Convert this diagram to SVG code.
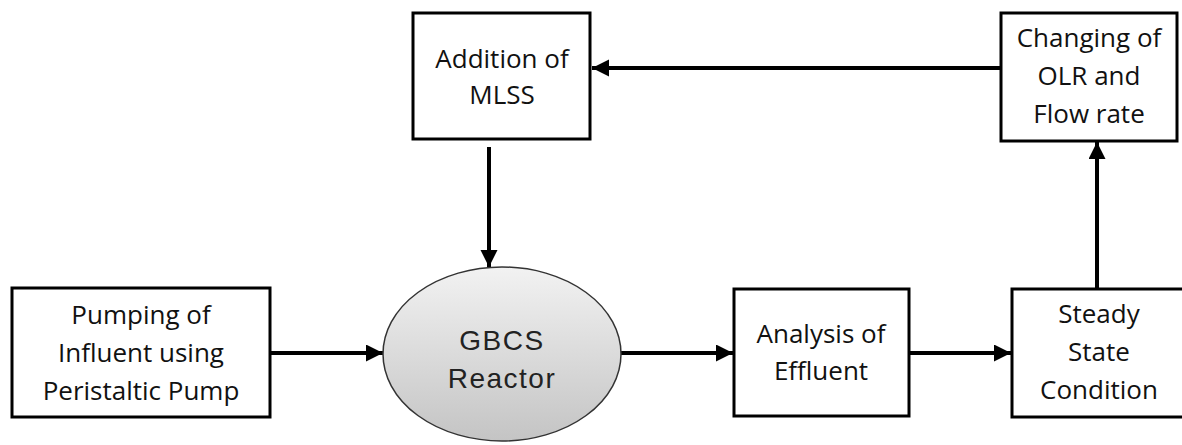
<svg xmlns="http://www.w3.org/2000/svg" width="1182" height="445" viewBox="0 0 1182 445">
  <style>
    .box { fill: #ffffff; stroke: #000000; stroke-width: 3; }
    .lbl { font-family: "Open Sans", "Liberation Sans", sans-serif; font-size: 26px; font-weight: 500; fill: #111111; text-anchor: middle; }
    .rlbl { font-family: "Liberation Sans", Arial, sans-serif; font-size: 28px; fill: #222222; text-anchor: middle; letter-spacing: 1.5px; }
    .conn { fill: none; stroke: #000000; stroke-width: 4; }
  </style>
  <defs>
    <marker id="arrow" markerUnits="userSpaceOnUse" markerWidth="18" markerHeight="18" refX="17" refY="8.5" orient="auto">
      <path d="M0,0 L17,8.5 L0,17 Z" fill="#000000"/>
    </marker>
    <linearGradient id="grey" x1="0" y1="0" x2="0" y2="1">
      <stop offset="0" stop-color="#f2f2f2"/>
      <stop offset="1" stop-color="#c4c4c4"/>
    </linearGradient>
  </defs>
  <rect width="1182" height="445" fill="#ffffff"/>

  <g id="connectors">
    <path class="conn" d="M270,353 H383" marker-end="url(#arrow)"/>
    <path class="conn" d="M621,353 H733" marker-end="url(#arrow)"/>
    <path class="conn" d="M909,353 H1011" marker-end="url(#arrow)"/>
    <path class="conn" d="M1097,289 V142" marker-end="url(#arrow)"/>
    <path class="conn" d="M1001,68 H592" marker-end="url(#arrow)"/>
    <path class="conn" d="M489,147 V267" marker-end="url(#arrow)"/>
  </g>

  <g id="pumping">
    <rect class="box" x="12" y="288" width="258" height="129"/>
    <text class="lbl" x="141" y="324">Pumping of</text>
    <text class="lbl" x="141" y="362">Influent using</text>
    <text class="lbl" x="141" y="400">Peristaltic Pump</text>
  </g>

  <g id="reactor">
    <ellipse cx="502" cy="354" rx="119" ry="87" fill="url(#grey)" stroke="#333333" stroke-width="1.5"/>
    <text class="rlbl" x="502" y="350">GBCS</text>
    <text class="rlbl" x="502" y="388">Reactor</text>
  </g>

  <g id="addition">
    <rect class="box" x="413" y="13" width="177" height="126"/>
    <text class="lbl" x="502" y="68">Addition of</text>
    <text class="lbl" x="502" y="104">MLSS</text>
  </g>

  <g id="analysis">
    <rect class="box" x="734" y="289" width="175" height="127"/>
    <text class="lbl" x="821" y="343">Analysis of</text>
    <text class="lbl" x="821" y="380">Effluent</text>
  </g>

  <g id="steady">
    <rect class="box" x="1012" y="289" width="174" height="128"/>
    <text class="lbl" x="1099" y="323">Steady</text>
    <text class="lbl" x="1099" y="361">State</text>
    <text class="lbl" x="1099" y="399">Condition</text>
  </g>

  <g id="changing">
    <rect class="box" x="1001" y="13" width="176" height="128"/>
    <text class="lbl" x="1089" y="47">Changing of</text>
    <text class="lbl" x="1089" y="85">OLR and</text>
    <text class="lbl" x="1089" y="123">Flow rate</text>
  </g>
</svg>
